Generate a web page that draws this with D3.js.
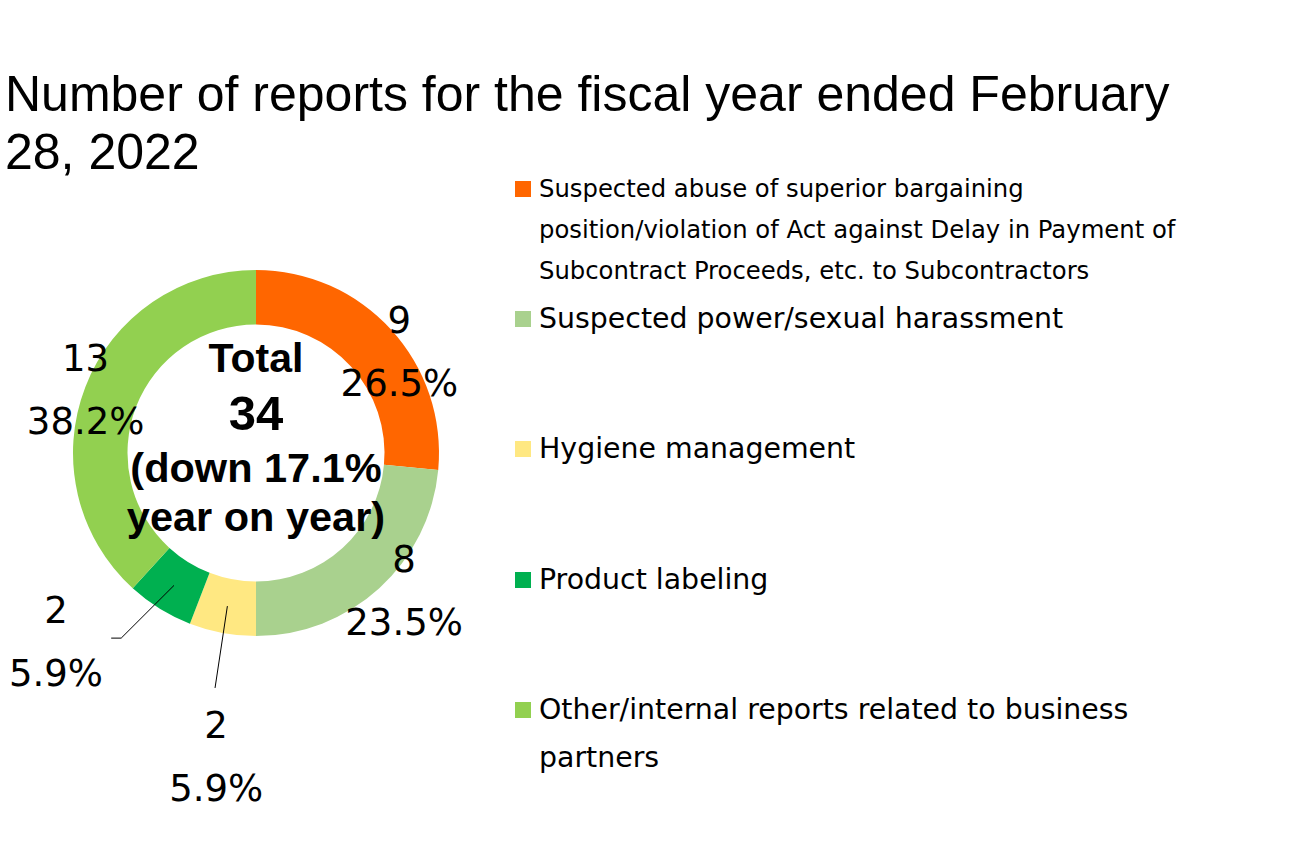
<!DOCTYPE html>
<html>
<head>
<meta charset="utf-8">
<script src="https://cdn.jsdelivr.net/npm/d3@7"></script>
<style>
  html, body { margin: 0; padding: 0; background: #ffffff; }
  svg { display: block; }
</style>
</head>
<body>
<svg id="chart" width="1303" height="842"></svg>
<script>
// ---- data ----
const categories = [
  "Suspected abuse of superior bargaining position/violation of Act against Delay in Payment of Subcontract Proceeds, etc. to Subcontractors",
  "Suspected power/sexual harassment",
  "Hygiene management",
  "Product labeling",
  "Other/internal reports related to business partners"
];
const legendLines = [
  ["Suspected abuse of superior bargaining", "position/violation of Act against Delay in Payment of", "Subcontract Proceeds, etc. to Subcontractors"],
  ["Suspected power/sexual harassment"],
  ["Hygiene management"],
  ["Product labeling"],
  ["Other/internal reports related to business", "partners"]
];
const values = [9, 8, 2, 2, 13];
const percentLabels = ["26.5%", "23.5%", "5.9%", "5.9%", "38.2%"];
const colors = ["#FF6600", "#A9D18E", "#FFE882", "#00B050", "#92D050"];
const titleLines = ["Number of reports for the fiscal year ended February", "28, 2022"];
const centerLines = ["Total", "34", "(down 17.1%", "year on year)"];

// ---- layout ----
const W = 1303, H = 842;
const cx = 256, cy = 453, outerR = 183, innerR = 128.5;
// label placement: radius from centre, angle shift (deg) from slice mid-angle, optional leader
const labelLayout = [
  { r: 176, shift: 6.9 },
  { r: 202, shift: -4.8 },
  { r: 306, shift: -3.1, leader: { r: 238.5, shift: -0.7, stub: 0 } },
  { r: 274.5, shift: 15.0, leader: { r: 229, shift: 4.3, stub: -10 } },
  { r: 182, shift: -0.6 }
];

const svg = d3.select("#chart");

// title
svg.append("g")
  .selectAll("text")
  .data(titleLines)
  .join("text")
  .attr("x", 5)
  .attr("y", (d, i) => 111 + i * 58)
  .attr("font-family", "'Liberation Sans', Arial, sans-serif")
  .attr("font-size", 50)
  .attr("fill", "#000")
  .text(d => d);

// donut
const pie = d3.pie().sort(null).value(d => d);
const arcs = pie(values);
const arc = d3.arc().innerRadius(innerR).outerRadius(outerR);
const midArc = d3.arc().innerRadius((innerR + outerR) / 2).outerRadius((innerR + outerR) / 2);

const g = svg.append("g").attr("transform", `translate(${cx},${cy})`);
g.selectAll("path.slice")
  .data(arcs)
  .join("path")
  .attr("class", "slice")
  .attr("d", arc)
  .attr("fill", (d, i) => colors[i]);

const polar = (angle, r) => [r * Math.sin(angle), -r * Math.cos(angle)];
const deg = Math.PI / 180;

// leader lines
arcs.forEach((a, i) => {
  const L = labelLayout[i].leader;
  if (!L) return;
  const mid = (a.startAngle + a.endAngle) / 2;
  const start = midArc.centroid(a);
  const elbow = polar(mid + L.shift * deg, L.r);
  const pts = [start, elbow];
  if (L.stub) pts.push([elbow[0] + L.stub, elbow[1]]);
  g.append("path")
    .attr("d", d3.line()(pts))
    .attr("fill", "none")
    .attr("stroke", "#000")
    .attr("stroke-width", 1);
});

// data labels
arcs.forEach((a, i) => {
  const mid = (a.startAngle + a.endAngle) / 2;
  const p = polar(mid + labelLayout[i].shift * deg, labelLayout[i].r);
  const t = g.append("text")
    .attr("text-anchor", "middle")
    .attr("font-family", "'DejaVu Sans', Verdana, sans-serif")
    .attr("font-size", 37)
    .attr("fill", "#000");
  t.append("tspan").attr("x", p[0]).attr("y", p[1] - 18).text(values[i]);
  t.append("tspan").attr("x", p[0]).attr("y", p[1] + 45).text(percentLabels[i]);
});

// centre text
const centerY = [372, 430, 482, 531];
const centerSize = [41, 49, 41.5, 41.5];
g.selectAll("text.center")
  .data(centerLines)
  .join("text")
  .attr("class", "center")
  .attr("x", 0)
  .attr("y", (d, i) => centerY[i] - cy)
  .attr("text-anchor", "middle")
  .attr("font-family", "'Liberation Sans', Arial, sans-serif")
  .attr("font-weight", "bold")
  .attr("font-size", (d, i) => centerSize[i])
  .attr("fill", "#000")
  .text(d => d);

// legend
const legendTop = [189, 319, 449, 580, 710];
const legendFont = [24.3, 28.4, 28.4, 28.4, 28.4];
const legendLH = [41, 48, 48, 48, 48];
const lg = svg.append("g");
legendLines.forEach((lines, i) => {
  lg.append("rect")
    .attr("x", 515)
    .attr("y", legendTop[i] - 8)
    .attr("width", 16)
    .attr("height", 16)
    .attr("fill", colors[i]);
  const t = lg.append("text")
    .attr("font-family", "'DejaVu Sans', Verdana, sans-serif")
    .attr("font-size", legendFont[i])
    .attr("fill", "#000");
  lines.forEach((line, j) => {
    t.append("tspan")
      .attr("x", 539)
      .attr("y", legendTop[i] + legendFont[i] * 0.33 + j * legendLH[i])
      .text(line);
  });
});
</script>
</body>
</html>
